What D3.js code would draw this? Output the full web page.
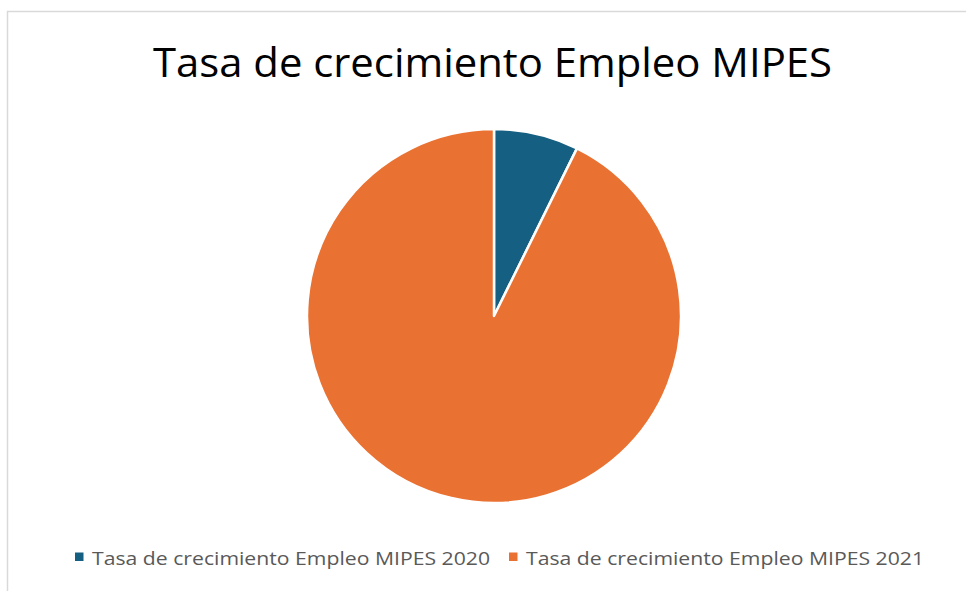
<!DOCTYPE html>
<html>
<head>
<meta charset="utf-8">
<script src="https://cdn.jsdelivr.net/npm/d3@7"></script>
<style>
  html, body { margin: 0; padding: 0; background: #ffffff; }
  svg { display: block; }
</style>
</head>
<body>
<svg id="chart" width="966" height="591"></svg>
<script>
const title = "Tasa de crecimiento Empleo MIPES";
const categories = ["Tasa de crecimiento Empleo MIPES 2020", "Tasa de crecimiento Empleo MIPES 2021"];
const values = [0.9, 11.4];
const colors = ["#156082", "#E97132"];

const svg = d3.select("#chart");

// chart area border
svg.append("rect")
  .attr("x", 7.5).attr("y", 11.5)
  .attr("width", 1000).attr("height", 700)
  .attr("fill", "none")
  .attr("stroke", "#d9d9d9")
  .attr("stroke-width", 1.5);

// title
svg.append("text")
  .attr("x", 153).attr("y", 77)
  .attr("font-family", "'Open Sans', 'Noto Sans', sans-serif")
  .attr("font-size", 41)
  .attr("fill", "#000000")
  .attr("textLength", 679)
  .attr("lengthAdjust", "spacingAndGlyphs")
  .text(title);

const data = categories.map((c, i) => ({ cat: c, value: values[i] }));
const color = d3.scaleOrdinal().domain(categories).range(colors);

const pie = d3.pie().sort(null).value(d => d.value);
const arc = d3.arc().innerRadius(0).outerRadius(187);

const g = svg.append("g").attr("transform", "translate(494,316)");
g.selectAll("path")
  .data(pie(data))
  .join("path")
  .attr("d", arc)
  .attr("fill", d => color(d.data.cat))
  .attr("stroke", "#ffffff")
  .attr("stroke-width", 2.5)
  .attr("stroke-linejoin", "round");

// legend
const legendX = [75, 509];
const legendW = [398, 398];
const lg = svg.append("g");
categories.forEach((c, i) => {
  lg.append("rect")
    .attr("x", legendX[i]).attr("y", 552.5)
    .attr("width", 8.5).attr("height", 8.5)
    .attr("fill", color(c));
  lg.append("text")
    .attr("x", legendX[i] + 17).attr("y", 565)
    .attr("font-family", "'Open Sans', 'Noto Sans', sans-serif")
    .attr("font-size", 18)
    .attr("fill", "#595959")
    .attr("textLength", legendW[i])
    .attr("lengthAdjust", "spacingAndGlyphs")
    .text(c);
});
</script>
</body>
</html>
